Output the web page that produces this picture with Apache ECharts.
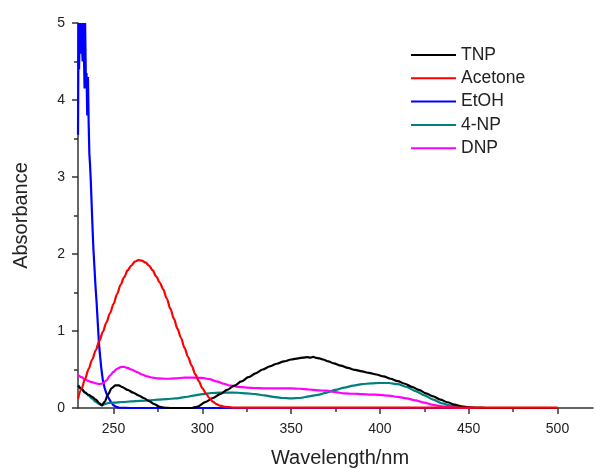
<!DOCTYPE html>
<html>
<head>
<meta charset="utf-8">
<script src="https://cdn.jsdelivr.net/npm/echarts@6/dist/echarts.min.js"></script>
<style>
  html, body { margin: 0; padding: 0; background: #fff; }
  #chart { width: 595px; height: 469px; }
</style>
</head>
<body>
<div id="chart"></div>
<script>
// UV-Vis absorption spectra (wavelength in nm, absorbance)
const seriesNames = ['TNP', 'Acetone', 'EtOH', '4-NP', 'DNP'];

const tnpX = [230, 232, 234, 236, 238, 240, 242, 243.5, 245, 247, 249, 251, 253, 255, 258, 261, 264, 267, 270, 273, 276, 279, 282, 294, 297, 302, 306, 310, 314, 318, 322, 326, 330, 334, 338, 342, 346, 350, 354, 357, 359, 361, 362.5, 364, 366, 368, 371, 374, 378, 382, 386, 390, 394, 398, 402, 406, 410, 414, 418, 422, 426, 430, 434, 438, 442, 446, 450, 455, 460, 480, 500];
const tnpY = [0.29, 0.245, 0.2, 0.17, 0.145, 0.11, 0.06, 0.035, 0.08, 0.18, 0.26, 0.295, 0.295, 0.27, 0.235, 0.2, 0.165, 0.13, 0.09, 0.05, 0.015, 0.003, 0, 0, 0.015, 0.08, 0.13, 0.18, 0.235, 0.29, 0.345, 0.4, 0.45, 0.5, 0.54, 0.575, 0.605, 0.63, 0.645, 0.655, 0.66, 0.655, 0.665, 0.65, 0.645, 0.63, 0.605, 0.58, 0.55, 0.52, 0.495, 0.475, 0.455, 0.435, 0.41, 0.38, 0.35, 0.315, 0.275, 0.235, 0.19, 0.15, 0.11, 0.075, 0.045, 0.022, 0.01, 0.003, 0, 0, 0];

const acetoneX = [230, 232, 234, 236, 238, 240, 242, 244, 246, 248, 250, 252, 254, 256, 258, 260, 262, 264, 266, 268, 270, 272, 274, 276, 278, 280, 282, 284, 286, 288, 290, 292, 294, 296, 298, 300, 302, 304, 306, 308, 310, 313, 317, 330, 360, 400, 430, 460, 500];
const acetoneY = [0.12, 0.25, 0.38, 0.51, 0.63, 0.75, 0.87, 0.99, 1.11, 1.23, 1.35, 1.48, 1.6, 1.7, 1.79, 1.85, 1.9, 1.92, 1.915, 1.89, 1.85, 1.79, 1.71, 1.63, 1.54, 1.42, 1.29, 1.16, 1.03, 0.91, 0.78, 0.66, 0.55, 0.44, 0.35, 0.26, 0.19, 0.13, 0.08, 0.05, 0.03, 0.015, 0.006, 0.004, 0.004, 0.004, 0.004, 0.004, 0.004];

const etohX = [230, 230.3, 230.6, 231, 231.4, 231.8, 232.2, 232.6, 233, 233.4, 233.7, 234, 234.4, 234.8, 235.2, 235.6, 236, 236.4, 236.8, 237.2, 237.6, 238, 238.6, 239.2, 239.8, 240.5, 241.2, 241.8, 242.5, 243.2, 244, 245, 246, 247, 248.5, 250, 251.5, 253, 260, 300, 400, 500];
const etohY = [3.55, 5, 4.4, 5, 4.6, 5, 5, 4.5, 5, 5, 4.15, 5, 4.3, 4.35, 3.8, 4.3, 3.7, 3.3, 3.15, 2.95, 2.7, 2.45, 2.1, 1.85, 1.6, 1.36, 1.08, 0.84, 0.66, 0.5, 0.36, 0.26, 0.19, 0.14, 0.08, 0.035, 0.015, 0.005, 0, 0, 0, 0];

const np4X = [230, 232, 234, 236, 238, 240, 242, 243.5, 245, 247, 250, 255, 260, 265, 270, 275, 280, 285, 290, 295, 300, 305, 310, 315, 320, 325, 330, 335, 340, 345, 350, 355, 360, 365, 370, 375, 380, 385, 390, 395, 400, 405, 410, 415, 420, 425, 430, 435, 440, 445, 450, 455, 460, 480, 500];
const np4Y = [0.3, 0.25, 0.2, 0.16, 0.12, 0.08, 0.05, 0.035, 0.05, 0.065, 0.07, 0.078, 0.085, 0.093, 0.1, 0.108, 0.115, 0.125, 0.14, 0.16, 0.18, 0.195, 0.2, 0.2, 0.198, 0.19, 0.18, 0.165, 0.145, 0.13, 0.125, 0.13, 0.15, 0.17, 0.2, 0.235, 0.265, 0.29, 0.31, 0.32, 0.325, 0.325, 0.31, 0.275, 0.22, 0.165, 0.11, 0.06, 0.028, 0.01, 0.005, 0.002, 0, 0, 0];

const dnpX = [230, 232, 234, 236, 238, 240, 242, 244, 246, 248, 250, 252, 254, 256, 258, 260, 263, 266, 269, 272, 275, 280, 285, 290, 295, 300, 304, 308, 312, 316, 320, 325, 330, 335, 340, 345, 350, 355, 360, 365, 370, 375, 380, 385, 390, 395, 400, 405, 410, 415, 420, 425, 430, 435, 440, 445, 450, 480, 500];
const dnpY = [0.43, 0.4, 0.37, 0.35, 0.335, 0.32, 0.31, 0.32, 0.36, 0.42, 0.47, 0.51, 0.53, 0.535, 0.52, 0.5, 0.47, 0.435, 0.41, 0.395, 0.385, 0.38, 0.385, 0.395, 0.395, 0.39, 0.375, 0.345, 0.315, 0.29, 0.275, 0.265, 0.26, 0.255, 0.255, 0.255, 0.255, 0.25, 0.24, 0.23, 0.225, 0.205, 0.19, 0.185, 0.18, 0.175, 0.17, 0.16, 0.145, 0.125, 0.1, 0.07, 0.04, 0.02, 0.008, 0.003, 0, 0, 0];

// axis ticks
const xMajorTicks = [250, 300, 350, 400, 450, 500];
const xMinorTicks = [275, 325, 375, 425, 475];
const yTicks = [0, 1, 2, 3, 4, 5];

const colors = {
  'TNP': '#000000',
  'Acetone': '#ff0000',
  'EtOH': '#0000ff',
  '4-NP': '#008080',
  'DNP': '#ff00ff'
};

const pairs = (xs, ys) => xs.map((x, i) => [x, ys[i]]);

const FONT = 'Arial, "Liberation Sans", sans-serif';
const TEXT = '#222';
const AXIS = '#333';

const chart = echarts.init(document.getElementById('chart'), null, { renderer: 'canvas' });

function lineSeries(name, xs, ys, smooth, z) {
  return {
    name: name,
    type: 'line',
    data: pairs(xs, ys),
    xAxisIndex: 0,
    yAxisIndex: 0,
    showSymbol: false,
    symbol: 'none',
    smooth: smooth,
    smoothMonotone: 'x',
    clip: true,
    z: z,
    lineStyle: { color: colors[name], width: 2.2 },
    itemStyle: { color: colors[name] }
  };
}

chart.setOption({
  animation: false,
  backgroundColor: '#fff',
  textStyle: { fontFamily: FONT },
  grid: {
    left: 78, right: 2, top: 23, bottom: 61,
    containLabel: false,
    outerBoundsMode: 'none'
  },
  legend: {
    data: seriesNames,
    orient: 'vertical',
    left: 411,
    top: 45,
    padding: 0,
    itemWidth: 45,
    itemHeight: 2,
    itemGap: 3.3,
    icon: 'rect',
    textStyle: { fontSize: 17.5, color: TEXT, fontFamily: FONT, lineHeight: 20 }
  },
  xAxis: [
    {
      type: 'value',
      min: 230,
      max: 520,
      position: 'bottom',
      name: 'Wavelength/nm',
      nameLocation: 'middle',
      nameGap: 40,
      nameTextStyle: { fontSize: 20, color: TEXT, fontFamily: FONT, padding: [0, 0, 0, 9] },
      axisLine: { show: true, lineStyle: { color: AXIS, width: 1.5 } },
      axisTick: { show: true, length: 6, customValues: xMajorTicks, lineStyle: { color: AXIS, width: 1.5 } },
      axisLabel: { show: true, customValues: xMajorTicks, margin: 14, fontSize: 14, color: TEXT, fontFamily: FONT },
      splitLine: { show: false }
    },
    {
      type: 'value',
      min: 230,
      max: 520,
      position: 'bottom',
      axisLine: { show: false },
      axisTick: { show: true, length: 4, customValues: xMinorTicks, lineStyle: { color: AXIS, width: 1.5 } },
      axisLabel: { show: false },
      splitLine: { show: false }
    }
  ],
  yAxis: {
    type: 'value',
    min: 0,
    max: 5,
    interval: 1,
    name: 'Absorbance',
    nameLocation: 'middle',
    nameGap: 47,
    nameTextStyle: { fontSize: 20, color: TEXT, fontFamily: FONT },
    axisLine: { show: true, lineStyle: { color: AXIS, width: 1.5 } },
    axisTick: { show: true, length: 6, lineStyle: { color: AXIS, width: 1.5 } },
    minorTick: { show: true, splitNumber: 2, length: 4, lineStyle: { color: AXIS, width: 1.5 } },
    axisLabel: {
      margin: 13, fontSize: 14, color: TEXT, fontFamily: FONT,
      formatter: v => (yTicks.indexOf(v) >= 0 ? String(v) : '')
    },
    splitLine: { show: false }
  },
  series: [
    lineSeries('EtOH', etohX, etohY, false, 2),
    lineSeries('4-NP', np4X, np4Y, 0.3, 3),
    lineSeries('DNP', dnpX, dnpY, 0.3, 4),
    lineSeries('TNP', tnpX, tnpY, 0.3, 5),
    lineSeries('Acetone', acetoneX, acetoneY, 0.3, 6)
  ]
});
</script>
</body>
</html>
